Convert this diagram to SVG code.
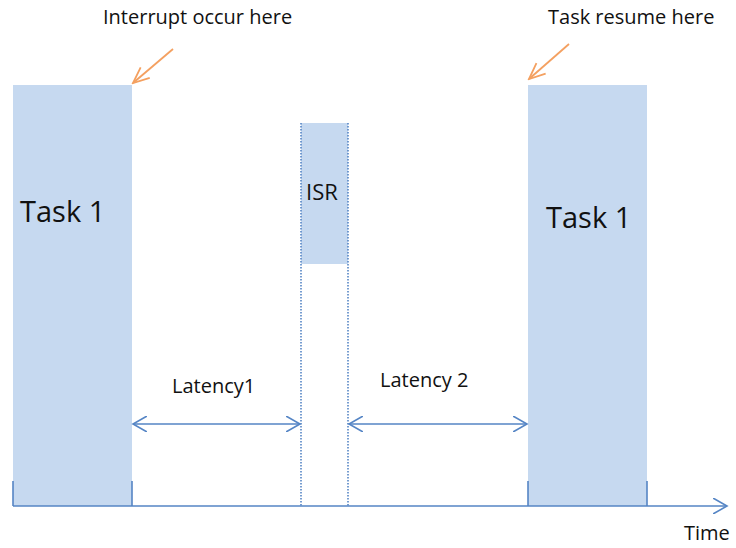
<svg xmlns="http://www.w3.org/2000/svg" width="736" height="548" viewBox="0 0 736 548">
<style>
.t{font-family:"Open Sans","Liberation Sans",sans-serif;fill:#111}
.bar{fill:#c6d9f0}
.ln{stroke:#5585c5;stroke-width:1.6;fill:none}
.dot{stroke:#5585c5;stroke-width:1.6;stroke-dasharray:1.5 1.5;fill:none}
.or{stroke:#f4a060;stroke-width:1.8;fill:none}
</style>
<defs>
<marker id="ah" markerWidth="16" markerHeight="16" refX="14" refY="8" orient="auto-start-reverse" markerUnits="userSpaceOnUse">
<path d="M0,0 L14,8 L0,16" fill="none" stroke="#5585c5" stroke-width="1.6"/>
</marker>
<marker id="oh" markerWidth="20" markerHeight="20" refX="18" refY="10" orient="auto" markerUnits="userSpaceOnUse">
<path d="M2,3 L18,10 L2,17" fill="none" stroke="#f4a060" stroke-width="1.8"/>
</marker>
</defs>
<rect width="736" height="548" fill="#fff"/>
<g id="task1-left">
<rect class="bar" x="13" y="85" width="119" height="421"/>
<text class="t" x="20" y="222" font-size="29">Task 1</text>
</g>
<g id="isr">
<rect class="bar" x="301" y="123" width="47" height="141"/>
<line class="dot" x1="301" y1="123" x2="301" y2="506"/>
<line class="dot" x1="348" y1="123" x2="348" y2="506"/>
<text class="t" x="306" y="200" font-size="22">ISR</text>
</g>
<g id="task1-right">
<rect class="bar" x="528" y="85" width="119" height="421"/>
<text class="t" x="546" y="228" font-size="29">Task 1</text>
</g>
<g id="labels">
<text class="t" x="103" y="24" font-size="20">Interrupt occur here</text>
<text class="t" x="548" y="24" font-size="20">Task resume here</text>
<text class="t" x="172" y="393" font-size="20">Latency1</text>
<text class="t" x="380" y="387" font-size="20">Latency 2</text>
<text class="t" x="684" y="540" font-size="20">Time</text>
</g>
<g id="connectors">
<line class="ln" x1="13" y1="506" x2="727" y2="506" marker-end="url(#ah)"/>
<line class="ln" x1="13" y1="481" x2="13" y2="506"/>
<line class="ln" x1="132" y1="481" x2="132" y2="506"/>
<line class="ln" x1="528" y1="481" x2="528" y2="506"/>
<line class="ln" x1="647" y1="481" x2="647" y2="506"/>
<line class="ln" x1="133" y1="424" x2="300" y2="424" marker-start="url(#ah)" marker-end="url(#ah)"/>
<line class="ln" x1="349" y1="424" x2="527" y2="424" marker-start="url(#ah)" marker-end="url(#ah)"/>
<line class="or" x1="173" y1="49" x2="133" y2="83" marker-end="url(#oh)"/>
<line class="or" x1="569" y1="44" x2="529" y2="79" marker-end="url(#oh)"/>
</g>
</svg>
